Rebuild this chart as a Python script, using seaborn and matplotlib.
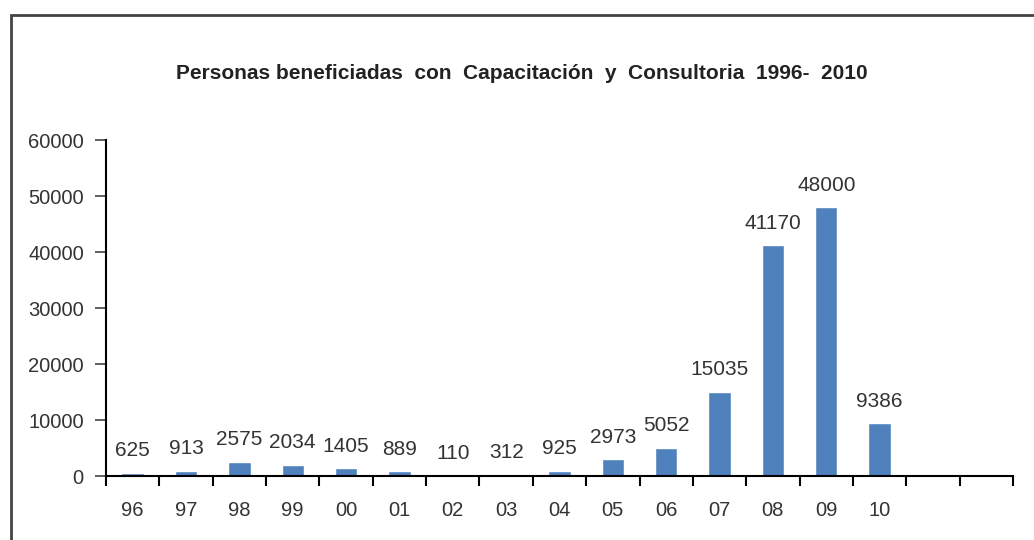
import numpy as np
import pandas as pd
import matplotlib
matplotlib.use("Agg")
import matplotlib.pyplot as plt
import seaborn as sns
from matplotlib.patches import Rectangle
from matplotlib.ticker import MultipleLocator

# data
years = ["96", "97", "98", "99", "00", "01", "02", "03", "04", "05", "06", "07", "08", "09", "10"]
personas = [625, 913, 2575, 2034, 1405, 889, 110, 312, 925, 2973, 5052, 15035, 41170, 48000, 9386]
y_ticks = [0, 10000, 20000, 30000, 40000, 50000, 60000]
n_slots = 17  # axis keeps two empty slots after 2010

df = pd.DataFrame({"year": years, "personas": personas})

sns.set_style("white")
plt.rcParams["font.family"] = ["Liberation Sans", "DejaVu Sans"]

fig = plt.figure(figsize=(10.34, 5.4), dpi=100)
ax = fig.add_axes([0.1025, 0.1185, 0.8772, 0.6222])

sns.barplot(data=df, x="year", y="personas", order=years, color="#4F81BD",
            saturation=1, width=0.42, ax=ax)

# value labels above the bars
ax.bar_label(ax.containers[0], labels=[str(v) for v in personas], padding=9,
             fontsize=15, color="#333333")

ax.set_xlim(-0.5, n_slots - 0.5)
ax.set_ylim(0, 60000)
ax.set_yticks(y_ticks)
ax.set_yticklabels([str(t) for t in y_ticks])
ax.set_xlabel("")
ax.set_ylabel("")

# tick marks between categories on x, label ticks without marks
ax.xaxis.set_minor_locator(MultipleLocator(1, offset=0.5))
ax.tick_params(axis="x", which="major", bottom=True, length=0, pad=18, labelsize=14.5,
               labelcolor="#333333")
ax.tick_params(axis="x", which="minor", bottom=True, length=7, width=1.5, direction="out",
               color="black")
ax.tick_params(axis="y", which="major", left=True, length=8, width=1.2, direction="out",
               color="#444444", pad=8, labelsize=14.5, labelcolor="#333333")

for side in ["top", "right"]:
    ax.spines[side].set_visible(False)
for side in ["left", "bottom"]:
    ax.spines[side].set_color("black")
    ax.spines[side].set_linewidth(1.5)

fig.text(0.505, 0.863, "Personas beneficiadas  con  Capacitación  y  Consultoria  1996-  2010",
         ha="center", va="center", fontsize=15, fontweight="bold", color="#222222")

# outer frame, partly cropped by the image edge
frame = Rectangle((0.0106, -0.2), 1.2, 1.172, transform=fig.transFigure, fill=False,
                  edgecolor="#444444", linewidth=2, clip_on=False)
fig.patches.append(frame)

fig.savefig("out.png", dpi=100)
